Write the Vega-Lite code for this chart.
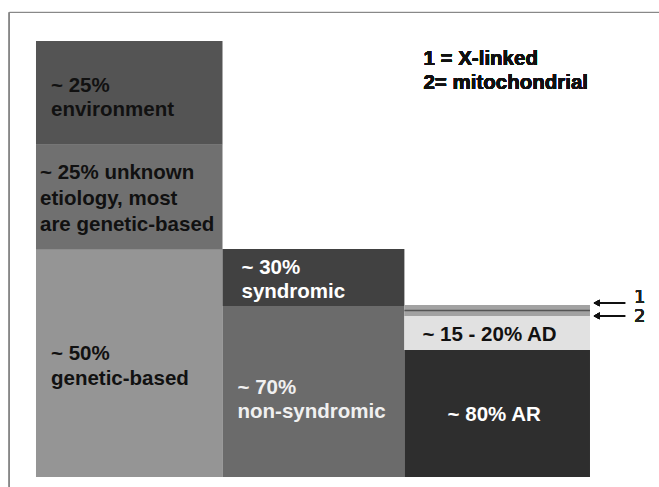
{
  "$schema": "https://vega.github.io/schema/vega-lite/v6.json",
  "width": 659,
  "height": 487,
  "padding": 0,
  "autosize": {"type": "none"},
  "background": "white",
  "config": {"view": {"stroke": null}},
  "data": {
    "values": [
      {"segment": "genetic", "label": "~ 50%\ngenetic-based", "x0": 0, "x1": 1.01, "y0": 0, "y1": 52.1},
      {"segment": "unknown", "label": "~ 25% unknown\netiology, most\nare genetic-based", "x0": 0, "x1": 1.01, "y0": 52.1, "y1": 76.2},
      {"segment": "environment", "label": "~ 25%\nenvironment", "x0": 0, "x1": 1.01, "y0": 76.2, "y1": 100},
      {"segment": "nonsyndromic", "label": "~ 70%\nnon-syndromic", "x0": 1.01, "x1": 1.995, "y0": 0, "y1": 39.2},
      {"segment": "syndromic", "label": "~ 30%\nsyndromic", "x0": 1.01, "x1": 1.995, "y0": 39.2, "y1": 52.3},
      {"segment": "AR", "label": "~ 80% AR", "x0": 1.995, "x1": 3, "y0": 0, "y1": 29.1},
      {"segment": "AD", "label": "~ 15 - 20% AD", "x0": 1.995, "x1": 3, "y0": 29.1, "y1": 36.9},
      {"segment": "mito", "label": "", "x0": 1.995, "x1": 3, "y0": 36.9, "y1": 38.2},
      {"segment": "xlinked", "label": "", "x0": 1.995, "x1": 3, "y0": 38.2, "y1": 39.45}
    ]
  },
  "transform": [
    {"calculate": "(datum.y0 + datum.y1) / 2", "as": "ym"},
    {"calculate": "(datum.x0 + datum.x1) / 2", "as": "xm"}
  ],
  "layer": [
    {
      "mark": {"type": "bar", "strokeWidth": 0},
      "encoding": {
        "x": {"field": "x0", "type": "quantitative", "axis": null, "scale": {"domain": [-0.1949, 3.3737], "nice": false, "zero": false}},
        "x2": {"field": "x1"},
        "y": {"field": "y0", "type": "quantitative", "axis": null, "scale": {"domain": [-2.294, 109.4], "nice": false, "zero": false}},
        "y2": {"field": "y1"},
        "color": {
          "field": "segment", "type": "nominal", "legend": null,
          "scale": {
            "domain": ["genetic", "unknown", "environment", "nonsyndromic", "syndromic", "AR", "AD", "mito", "xlinked"],
            "range": ["#959595", "#707070", "#545454", "#6b6b6b", "#414141", "#2e2e2e", "#e1e1e1", "#a2a2a2", "#a2a2a2"]
          }
        }
      }
    },
    {
      "transform": [{"filter": {"field": "segment", "equal": "mito"}}],
      "mark": {"type": "rule", "color": "#555555", "strokeWidth": 1.5},
      "encoding": {
        "x": {"field": "x0", "type": "quantitative", "axis": null},
        "x2": {"field": "x1"},
        "y": {"field": "y1", "type": "quantitative", "axis": null}
      }
    },
    {
      "transform": [{"filter": {"field": "segment", "equal": "environment"}}],
      "mark": {"type": "text", "align": "left", "baseline": "middle", "dx": 15, "dy": -7, "font": "Liberation Sans", "fontWeight": "bold", "fontSize": 20.5, "lineHeight": 24, "lineBreak": "\n", "color": "#111111"},
      "encoding": {
        "x": {"field": "x0", "type": "quantitative", "axis": null},
        "y": {"field": "ym", "type": "quantitative", "axis": null},
        "text": {"field": "label"}
      }
    },
    {
      "transform": [{"filter": {"field": "segment", "equal": "genetic"}}],
      "mark": {"type": "text", "align": "left", "baseline": "middle", "dx": 15, "dy": -9, "font": "Liberation Sans", "fontWeight": "bold", "fontSize": 20.5, "lineHeight": 25, "lineBreak": "\n", "color": "#111111"},
      "encoding": {
        "x": {"field": "x0", "type": "quantitative", "axis": null},
        "y": {"field": "ym", "type": "quantitative", "axis": null},
        "text": {"field": "label"}
      }
    },
    {
      "transform": [{"filter": {"field": "segment", "equal": "unknown"}}],
      "mark": {"type": "text", "align": "left", "baseline": "middle", "dx": 4, "dy": -24, "font": "Liberation Sans", "fontWeight": "bold", "fontSize": 20.5, "lineHeight": 26, "lineBreak": "\n", "color": "#111111"},
      "encoding": {
        "x": {"field": "x0", "type": "quantitative", "axis": null},
        "y": {"field": "ym", "type": "quantitative", "axis": null},
        "text": {"field": "label"}
      }
    },
    {
      "transform": [{"filter": {"field": "segment", "equal": "syndromic"}}],
      "mark": {"type": "text", "align": "left", "baseline": "middle", "dx": 19, "dy": -10, "font": "Liberation Sans", "fontWeight": "bold", "fontSize": 20.5, "lineHeight": 24.5, "lineBreak": "\n", "color": "#ffffff"},
      "encoding": {
        "x": {"field": "x0", "type": "quantitative", "axis": null},
        "y": {"field": "ym", "type": "quantitative", "axis": null},
        "text": {"field": "label"}
      }
    },
    {
      "transform": [{"filter": {"field": "segment", "equal": "nonsyndromic"}}],
      "mark": {"type": "text", "align": "left", "baseline": "middle", "dx": 15, "dy": -4, "font": "Liberation Sans", "fontWeight": "bold", "fontSize": 20.5, "lineHeight": 24.5, "lineBreak": "\n", "color": "#f0f0f0"},
      "encoding": {
        "x": {"field": "x0", "type": "quantitative", "axis": null},
        "y": {"field": "ym", "type": "quantitative", "axis": null},
        "text": {"field": "label"}
      }
    },
    {
      "transform": [{"filter": {"field": "segment", "equal": "AD"}}],
      "mark": {"type": "text", "align": "left", "baseline": "middle", "dx": 18, "dy": 2, "font": "Liberation Sans", "fontWeight": "bold", "fontSize": 20.5, "color": "#111111"},
      "encoding": {
        "x": {"field": "x0", "type": "quantitative", "axis": null},
        "y": {"field": "ym", "type": "quantitative", "axis": null},
        "text": {"field": "label"}
      }
    },
    {
      "transform": [{"filter": {"field": "segment", "equal": "AR"}}],
      "mark": {"type": "text", "align": "center", "baseline": "middle", "dx": -3, "dy": 1, "font": "Liberation Sans", "fontWeight": "bold", "fontSize": 20.5, "color": "#ffffff"},
      "encoding": {
        "x": {"field": "xm", "type": "quantitative", "axis": null},
        "y": {"field": "ym", "type": "quantitative", "axis": null},
        "text": {"field": "label"}
      }
    },
    {
      "mark": {"type": "text", "align": "left", "baseline": "middle", "font": "Liberation Sans", "fontWeight": "bold", "fontSize": 20.5, "lineHeight": 24, "lineBreak": "\n", "color": "#111111"},
      "encoding": {
        "x": {"datum": 2.098, "type": "quantitative", "axis": null},
        "y": {"datum": 95.85, "type": "quantitative", "axis": null},
        "text": {"value": "1 = X-linked\n2= mitochondrial"}
      }
    },
    {
      "mark": {"type": "rule", "color": "#888888", "strokeWidth": 1},
      "encoding": {
        "x": {"datum": -0.1445, "type": "quantitative", "axis": null},
        "x2": {"datum": 3.3737},
        "y": {"datum": 106.54, "type": "quantitative", "axis": null}
      }
    },
    {
      "mark": {"type": "rule", "color": "#888888", "strokeWidth": 1},
      "encoding": {
        "x": {"datum": -0.1445, "type": "quantitative", "axis": null},
        "y": {"datum": 106.54, "type": "quantitative", "axis": null},
        "y2": {"datum": -2.294}
      }
    },
    {
      "mark": {"type": "rule", "color": "#111111", "strokeWidth": 1.5},
      "encoding": {
        "x": {"datum": 3.035, "type": "quantitative", "axis": null},
        "x2": {"datum": 3.19},
        "y": {"datum": 39.91, "type": "quantitative", "axis": null}
      }
    },
    {
      "mark": {"type": "rule", "color": "#111111", "strokeWidth": 1.5},
      "encoding": {
        "x": {"datum": 3.035, "type": "quantitative", "axis": null},
        "x2": {"datum": 3.19},
        "y": {"datum": 36.93, "type": "quantitative", "axis": null}
      }
    },
    {
      "mark": {"type": "point", "shape": "triangle-left", "filled": true, "color": "#111111", "size": 45, "opacity": 1},
      "encoding": {
        "x": {"datum": 3.036, "type": "quantitative", "axis": null},
        "y": {"datum": 39.91, "type": "quantitative", "axis": null}
      }
    },
    {
      "mark": {"type": "point", "shape": "triangle-left", "filled": true, "color": "#111111", "size": 45, "opacity": 1},
      "encoding": {
        "x": {"datum": 3.036, "type": "quantitative", "axis": null},
        "y": {"datum": 36.93, "type": "quantitative", "axis": null}
      }
    },
    {
      "mark": {"type": "text", "align": "left", "baseline": "middle", "font": "DejaVu Sans", "fontSize": 18, "color": "#222222"},
      "encoding": {
        "x": {"datum": 3.238, "type": "quantitative", "axis": null},
        "y": {"datum": 41.06, "type": "quantitative", "axis": null},
        "text": {"value": "1"}
      }
    },
    {
      "mark": {"type": "text", "align": "left", "baseline": "middle", "font": "DejaVu Sans", "fontSize": 18, "color": "#222222"},
      "encoding": {
        "x": {"datum": 3.238, "type": "quantitative", "axis": null},
        "y": {"datum": 36.7, "type": "quantitative", "axis": null},
        "text": {"value": "2"}
      }
    }
  ]
}
